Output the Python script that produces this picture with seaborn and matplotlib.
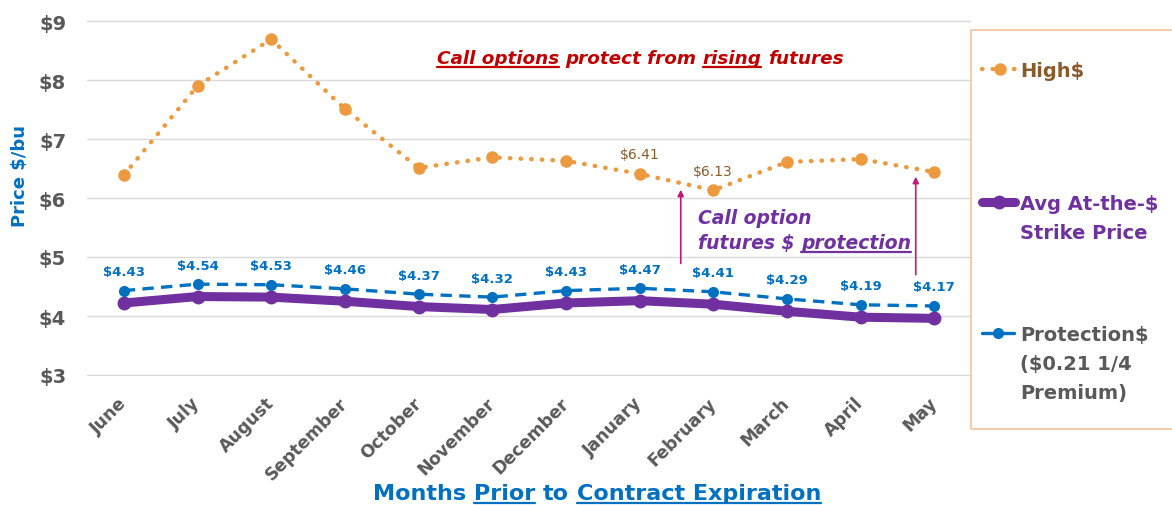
import numpy as np
import pandas as pd
import matplotlib
matplotlib.use("Agg")
import matplotlib.pyplot as plt
import seaborn as sns
from matplotlib.lines import Line2D
from matplotlib.patches import Rectangle
from matplotlib.transforms import IdentityTransform

# chart values
months = ["June", "July", "August", "September", "October", "November",
          "December", "January", "February", "March", "April", "May"]
high = [6.39, 7.90, 8.69, 7.51, 6.51, 6.69, 6.63, 6.41, 6.13, 6.61, 6.66, 6.44]
strike = [4.22, 4.33, 4.32, 4.25, 4.16, 4.11, 4.22, 4.26, 4.20, 4.08, 3.98, 3.96]
protection = [4.43, 4.54, 4.53, 4.46, 4.37, 4.32, 4.43, 4.47, 4.41, 4.29, 4.19, 4.17]
high_labelled = ["January", "February"]
y_ticks = [3, 4, 5, 6, 7, 8, 9]

ORANGE = "#ed9a3f"
PURPLE = "#7030a0"
BLUE = "#0070c0"
GRAY = "#595959"
RED = "#c00000"
BROWN = "#8a5a2b"
MAGENTA = "#c0187a"

sns.set_theme(style="white")
plt.rcParams["font.family"] = ["DejaVu Sans"]

W, H = 1172, 506
fig = plt.figure(figsize=(W / 100, H / 100), dpi=100)
# $9 gridline at y=22 px, $3 at y=376 px; pad the limits a little so edge lines show
ymin, ymax = 2.98, 9.02
ppu = (376 - 22) / 6
top_px = 22 - (ymax - 9) * ppu
bot_px = 376 + (3 - ymin) * ppu
ax = fig.add_axes([87 / W, 1 - bot_px / H, (971 - 87) / W, (bot_px - top_px) / H])

df = pd.DataFrame({"month": months, "high": high, "strike": strike,
                   "protection": protection})
df["pos"] = np.arange(len(df))

sns.lineplot(data=df, x="pos", y="high", ax=ax, color=ORANGE, legend=False,
             linestyle=(0, (0.1, 2.3)), linewidth=3.2, dash_capstyle="round",
             marker="o", markersize=9, markeredgewidth=0, zorder=3)
sns.lineplot(data=df, x="pos", y="strike", ax=ax, color=PURPLE, legend=False,
             linewidth=6.5, solid_capstyle="round",
             marker="o", markersize=10, markeredgewidth=0, zorder=4)
sns.lineplot(data=df, x="pos", y="protection", ax=ax, color=BLUE, legend=False,
             linestyle=(0, (3.4, 2.2)), linewidth=2.4,
             marker="o", markersize=8, markeredgewidth=0, zorder=5)

for _, r in df.iterrows():
    ax.annotate(f"${r.protection:.2f}", (r.pos, r.protection), xytext=(0, 9),
                textcoords="offset points", ha="center", va="bottom",
                color=BLUE, fontsize=9.5, fontweight="bold")
    if r.month in high_labelled:
        ax.annotate(f"${r.high:.2f}", (r.pos, r.high), xytext=(0, 9),
                    textcoords="offset points", ha="center", va="bottom",
                    color=BROWN, fontsize=10)

# protection arrows
for xa, y0, y1 in [(7.56, 4.89, 6.14), (10.75, 4.70, 6.36)]:
    ax.annotate("", xy=(xa, y1), xytext=(xa, y0),
                arrowprops=dict(arrowstyle="-|>", color=MAGENTA, lw=1.2,
                                mutation_scale=9, shrinkA=0, shrinkB=0))

ax.set_xlim(-0.5, len(df) - 0.5)
ax.set_ylim(ymin, ymax)
ax.set_xticks(df["pos"], months)
ax.set_yticks(y_ticks, [f"${v}" for v in y_ticks])
ax.tick_params(length=0)
ax.tick_params(axis="y", labelsize=14, labelcolor=GRAY, pad=15)
ax.tick_params(axis="x", labelsize=12.5, labelcolor=GRAY, pad=17)
for lbl in ax.get_yticklabels():
    lbl.set_fontweight("bold")
for lbl in ax.get_xticklabels():
    lbl.set_fontweight("bold")
    lbl.set_rotation(45)
    lbl.set_ha("right")
    lbl.set_va("center")
    lbl.set_rotation_mode("anchor")
ax.yaxis.grid(True, color="#d9d9d9", linewidth=1)
ax.xaxis.grid(False)
ax.set_axisbelow(True)
for s in ax.spines.values():
    s.set_visible(False)
ax.set_xlabel("")
ax.set_ylabel("Price $/bu", color=BLUE, fontsize=13, fontweight="bold")
ax.yaxis.set_label_coords(-0.066, 0.565)

ident = IdentityTransform()
renderer = fig.canvas.get_renderer()


def rich(px, py, parts, ha="left", ul_off=4, ul_lw=1.6, **kw):
    """Place text pieces on one baseline (pixel coords, top origin), underlining some."""
    kw = dict(kw, va="baseline", transform=ident)

    def width(s):
        t = fig.text(0, 0, s, **kw)
        w = t.get_window_extent(renderer).width
        t.remove()
        return w

    space = width("a a") - width("aa")
    widths = [width(s) for s, _ in parts]
    total = sum(widths) + space * (len(parts) - 1)
    x0 = px - total / 2 if ha == "center" else px
    yb = H - py
    for (s, u), w in zip(parts, widths):
        fig.text(x0, yb, s, **kw)
        if u:
            fig.add_artist(Line2D([x0, x0 + w], [yb - ul_off] * 2, transform=ident,
                                  color=kw["color"], linewidth=ul_lw))
        x0 += w + space


rich(640, 64, [("Call options", True), ("protect from", False), ("rising", True),
               ("futures", False)], ha="center", fontsize=13.2, color=RED,
     fontweight="bold", style="italic")
rich(698, 224, [("Call option", False)], fontsize=13.5, color=PURPLE,
     fontweight="bold", style="italic")
rich(698, 249, [("futures $", False), ("protection", True)], fontsize=13.5,
     color=PURPLE, fontweight="bold", style="italic")
rich(597, 500, [("Months", False), ("Prior", True), ("to", False),
                ("Contract Expiration", True)], ha="center", fontsize=16,
     color=BLUE, fontweight="bold")

# legend box
fig.add_artist(Rectangle((971, H - 430), 220, 399, transform=ident, fill=False,
                         edgecolor="#f2c49a", linewidth=1.2))
fig.add_artist(Line2D([982, 1017], [H - 70] * 2, transform=ident, color=ORANGE,
                      linestyle=(0, (0.1, 2.3)), linewidth=3.2, dash_capstyle="round"))
fig.add_artist(Line2D([999.5], [H - 70], transform=ident, color=ORANGE,
                      marker="o", markersize=9, markeredgewidth=0))
fig.add_artist(Line2D([982, 1015], [H - 203] * 2, transform=ident, color=PURPLE,
                      linewidth=6.5, solid_capstyle="round"))
fig.add_artist(Line2D([998.5], [H - 203], transform=ident, color=PURPLE,
                      marker="o", markersize=10, markeredgewidth=0))
fig.add_artist(Line2D([982, 1014], [H - 334] * 2, transform=ident, color=BLUE,
                      linewidth=2.4))
fig.add_artist(Line2D([998], [H - 334], transform=ident, color=BLUE,
                      marker="o", markersize=8, markeredgewidth=0))

leg_kw = dict(transform=ident, fontsize=14, fontweight="bold", va="baseline")
fig.text(1020, H - 77, "High$", color=BROWN, **leg_kw)
fig.text(1020, H - 210, "Avg At-the-$", color=PURPLE, **leg_kw)
fig.text(1020, H - 239, "Strike Price", color=PURPLE, **leg_kw)
fig.text(1020, H - 341, "Protection$", color=GRAY, **leg_kw)
fig.text(1020, H - 370, "($0.21 1/4", color=GRAY, **leg_kw)
fig.text(1020, H - 399, "Premium)", color=GRAY, **leg_kw)

fig.savefig("out.png", dpi=100)
